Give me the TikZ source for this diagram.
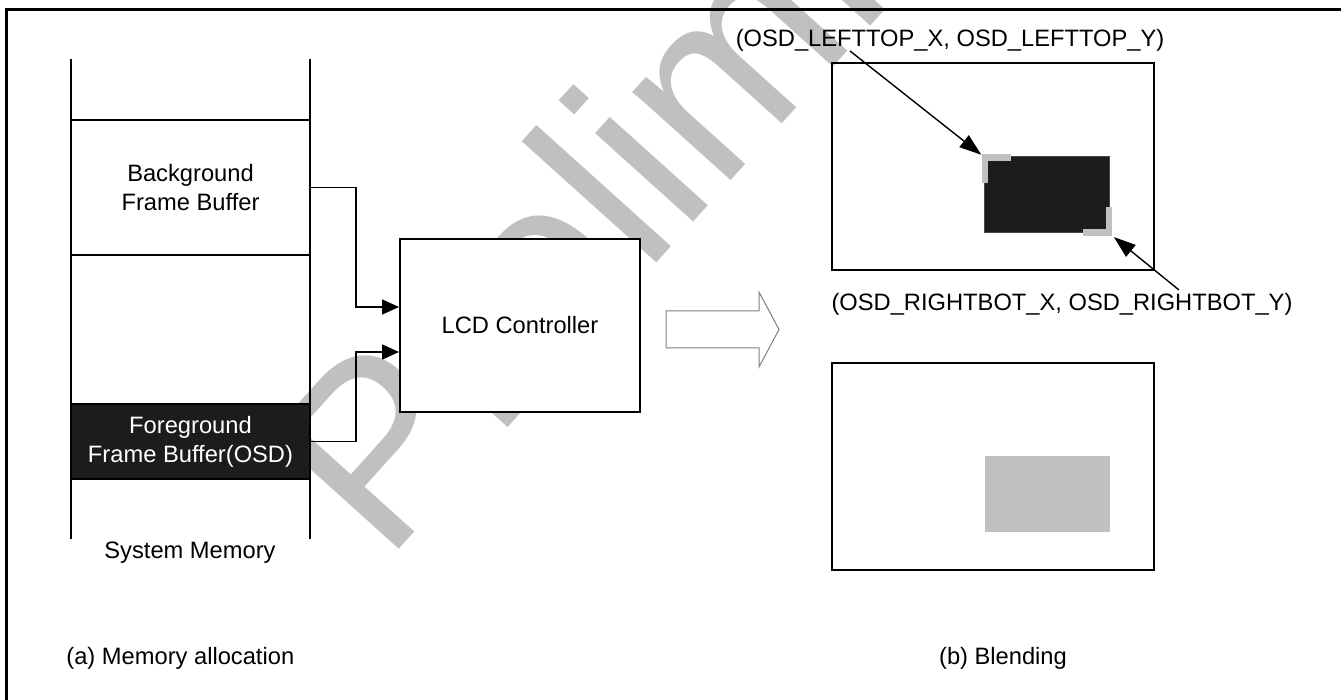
\documentclass[tikz,border=0pt]{standalone}
\usepackage{fontspec}
\setmainfont{Liberation Sans}
\usepackage{tikz}
\usetikzlibrary{arrows.meta,positioning,calc}

\definecolor{wmgray}{HTML}{C0C0C0}
\definecolor{osddark}{HTML}{1C1C1C}
\definecolor{arrgray}{HTML}{7F7F7F}

\begin{document}
\begin{tikzpicture}[
  x=0.5pt, y=-0.5pt,
  every node/.style={font=\fontsize{11.85}{14.5}\selectfont, inner sep=0pt},
  frame/.style={line width=1.5pt},
  memline/.style={line width=1pt},
  membox/.style={rectangle, draw=black, line width=1pt,
                 minimum width=119.5pt, align=center},
  ctrlbox/.style={rectangle, draw=black, line width=1pt, fill=white,
                  minimum width=120pt, minimum height=86.5pt},
  screen/.style={rectangle, draw=black, line width=1pt,
                 minimum width=161pt, minimum height=103.5pt},
  win/.style={rectangle, minimum width=62.5pt, minimum height=38pt},
  conn/.style={-{Triangle[length=8.5pt,width=7.5pt]}, line width=0.8pt},
  ptr/.style={-{Triangle[length=11pt,width=7.5pt]}, line width=0.7pt},
  blockarr/.style={draw=arrgray, line width=0.5pt},
]
\useasboundingbox (0,0) rectangle (1341,700);

%% ── watermark ─────────────────────────────────────────────────────────
\node[text=wmgray, font=\fontsize{125}{125}\selectfont, rotate=48,
      anchor=base west] (wmark) at (385,565) {Preliminary};

%% ── frame ─────────────────────────────────────────────────────────────
\draw[frame] (1341,10) -- (6,10) -- (6,700);

%% ── left panel: memory allocation ────────────────────────────────────
\begin{scope}
  % memory column
  \draw[memline] (71,59) -- (71,539);
  \draw[memline] (310,59) -- (310,539);
  \node[membox, minimum height=67.5pt] (bgbuf) at (190.5,187.5)
       {Background\\Frame Buffer};
  \node[membox, minimum height=37.5pt, fill=osddark, text=white] (fgbuf)
       at (190.5,441.5) {Foreground\\Frame Buffer(OSD)};
  \node (memlbl) at (190,553) {System Memory};

  % controller
  \node[ctrlbox] (ctrl) at (520,325.5) {LCD Controller};
  \coordinate (inA) at ($(ctrl.west)+(0,-18.5)$);
  \coordinate (inB) at ($(ctrl.west)+(0,26.5)$);
  \draw[conn] (bgbuf.east) -- ++(45,0) |- (inA);
  \draw[conn] (fgbuf.east) -- ++(45,0) |- (inB);

  % result arrow
  \draw[blockarr] (666,311) -- (759,311) -- (759,292) -- (779,329.5)
                  -- (759,367) -- (759,348) -- (666,348) -- cycle;

  \node[anchor=west] (capa) at (66,658) {(a) Memory allocation};
\end{scope}

%% ── right panel: blending ────────────────────────────────────────────
\begin{scope}
  \node[screen] (scrA) at (993,166.5) {};
  \node[win, fill=osddark, draw=osddark!80!white, line width=0.5pt] (osd)
       at (1046.5,195) {};
  % corner marks
  \fill[wmgray] (982,154) rectangle (988,183);
  \fill[wmgray] (982,154) rectangle (1011,161);
  \fill[wmgray] (1106,207) rectangle (1112,236);
  \fill[wmgray] (1083,229) rectangle (1112,236);

  \node (ltlab) at (950,40) {(OSD\_LEFTTOP\_X, OSD\_LEFTTOP\_Y)};
  \node (rblab) at (1062,304) {(OSD\_RIGHTBOT\_X, OSD\_RIGHTBOT\_Y)};
  \coordinate (ltfrom) at (850,51);
  \coordinate (rbfrom) at (1179,290);
  \draw[ptr, shorten >=1.4pt] (ltfrom) -- (osd.north west);
  \draw[ptr, shorten >=2.8pt] (rbfrom) -- (osd.south east);

  \node[screen] (scrB) at (993,466.5) {};
  \node[win, fill=wmgray] (blend) at (1047,494.5) {};

  \node (capb) at (1003,658) {(b) Blending};
\end{scope}

\end{tikzpicture}
\end{document}
